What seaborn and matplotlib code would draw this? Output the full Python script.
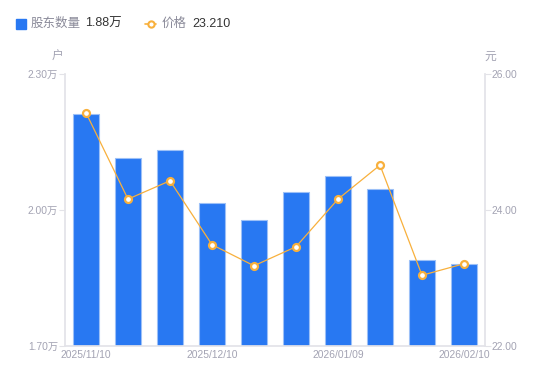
import numpy as np
import pandas as pd
import matplotlib
matplotlib.use('Agg')
import matplotlib.pyplot as plt
import seaborn as sns
from matplotlib.patches import Rectangle
from matplotlib.lines import Line2D

# data
dates = ['2025/11/10', '2025/11/20', '2025/11/28', '2025/12/10', '2025/12/19',
         '2025/12/31', '2026/01/09', '2026/01/20', '2026/01/30', '2026/02/10']
holders = [2.212, 2.115, 2.132, 2.015, 1.978, 2.040, 2.075, 2.046, 1.890, 1.881]  # 万户
prices = [25.43, 24.16, 24.43, 23.49, 23.18, 23.46, 24.16, 24.66, 23.04, 23.21]  # 元
shown_dates = ['2025/11/10', '2025/12/10', '2026/01/09', '2026/02/10']

sns.set_theme(style='white')
plt.rcParams['font.family'] = ['Liberation Sans', 'Noto Sans CJK SC', 'DejaVu Sans']

BLUE = '#2878F2'
ORANGE = '#F8B03C'
GRAY = '#A3A3B3'
AXIS = '#E3E3E8'

df = pd.DataFrame({'date': dates, 'holders': holders, 'price': prices})

fig = plt.figure(figsize=(5.5, 3.81), dpi=100)
ax = fig.add_axes([65 / 550, 1 - 346 / 381, 420 / 550, 272 / 381])

sns.barplot(data=df, x='date', y='holders', color=BLUE, saturation=1,
            width=0.6, edgecolor='#9CC0F7', linewidth=0.8, ax=ax)
ax.set_ylim(1.70, 2.30)
ax.set_xlim(-0.5, len(dates) - 0.5)
ax.set_yticks([1.70, 2.00, 2.30])
ax.set_yticklabels([f'{v:.2f}万' for v in [1.70, 2.00, 2.30]])
ax.set_xticks([dates.index(d) for d in shown_dates])
ax.set_xticklabels(shown_dates)
ax.set_xlabel('')
ax.set_ylabel('')

ax2 = ax.twinx()
x = np.arange(len(dates))
ax2.plot(x, df['price'], color=ORANGE, lw=0.9, marker='o', ms=5,
         mfc='white', mec=ORANGE, mew=1.6, zorder=5)
ax2.set_ylim(22, 26)
ax2.set_yticks([22, 24, 26])
ax2.set_yticklabels([f'{v:.2f}' for v in [22, 24, 26]])

for a in (ax, ax2):
    for s in a.spines.values():
        s.set_visible(False)
    a.tick_params(axis='y', colors=AXIS, labelcolor=GRAY, labelsize=7.4,
                  length=4, width=0.8, pad=1)
    a.tick_params(axis='x', length=0, labelcolor=GRAY, labelsize=7.4, pad=3)
ax.spines['left'].set_visible(True)
ax.spines['left'].set_color(AXIS)
ax.spines['bottom'].set_visible(True)
ax.spines['bottom'].set_color(AXIS)
ax2.spines['right'].set_visible(True)
ax2.spines['right'].set_color(AXIS)
ax.yaxis.set_ticks_position('left')
ax2.yaxis.set_ticks_position('right')

# unit labels
fig.text(58 / 550, 1 - 57 / 381, '户', color=GRAY, fontsize=8.5, ha='center', va='center')
fig.text(490 / 550, 1 - 57 / 381, '元', color=GRAY, fontsize=8.5, ha='center', va='center')

# legend
fig.patches.append(Rectangle((16 / 550, 1 - 29 / 381), 10 / 550, 10 / 381,
                             transform=fig.transFigure, color=BLUE, figure=fig))
fig.text(31 / 550, 1 - 24 / 381, '股东数量', color='#8A8A99', fontsize=9, va='center')
fig.text(85 / 550, 1 - 24 / 381, '1.88万', color='#333333', fontsize=9, va='center')
fig.lines.append(Line2D([145 / 550, 156 / 550], [1 - 24 / 381, 1 - 24 / 381],
                        transform=fig.transFigure, color=ORANGE, lw=1.2, figure=fig))
fig.lines.append(Line2D([150.5 / 550], [1 - 24 / 381], transform=fig.transFigure,
                        color=ORANGE, marker='o', ms=4.5, mfc='white', mew=1.5,
                        lw=0, figure=fig))
fig.text(162 / 550, 1 - 24 / 381, '价格', color='#8A8A99', fontsize=9, va='center')
fig.text(192 / 550, 1 - 24 / 381, '23.210', color='#333333', fontsize=9, va='center')

fig.savefig('out.png', dpi=100)
